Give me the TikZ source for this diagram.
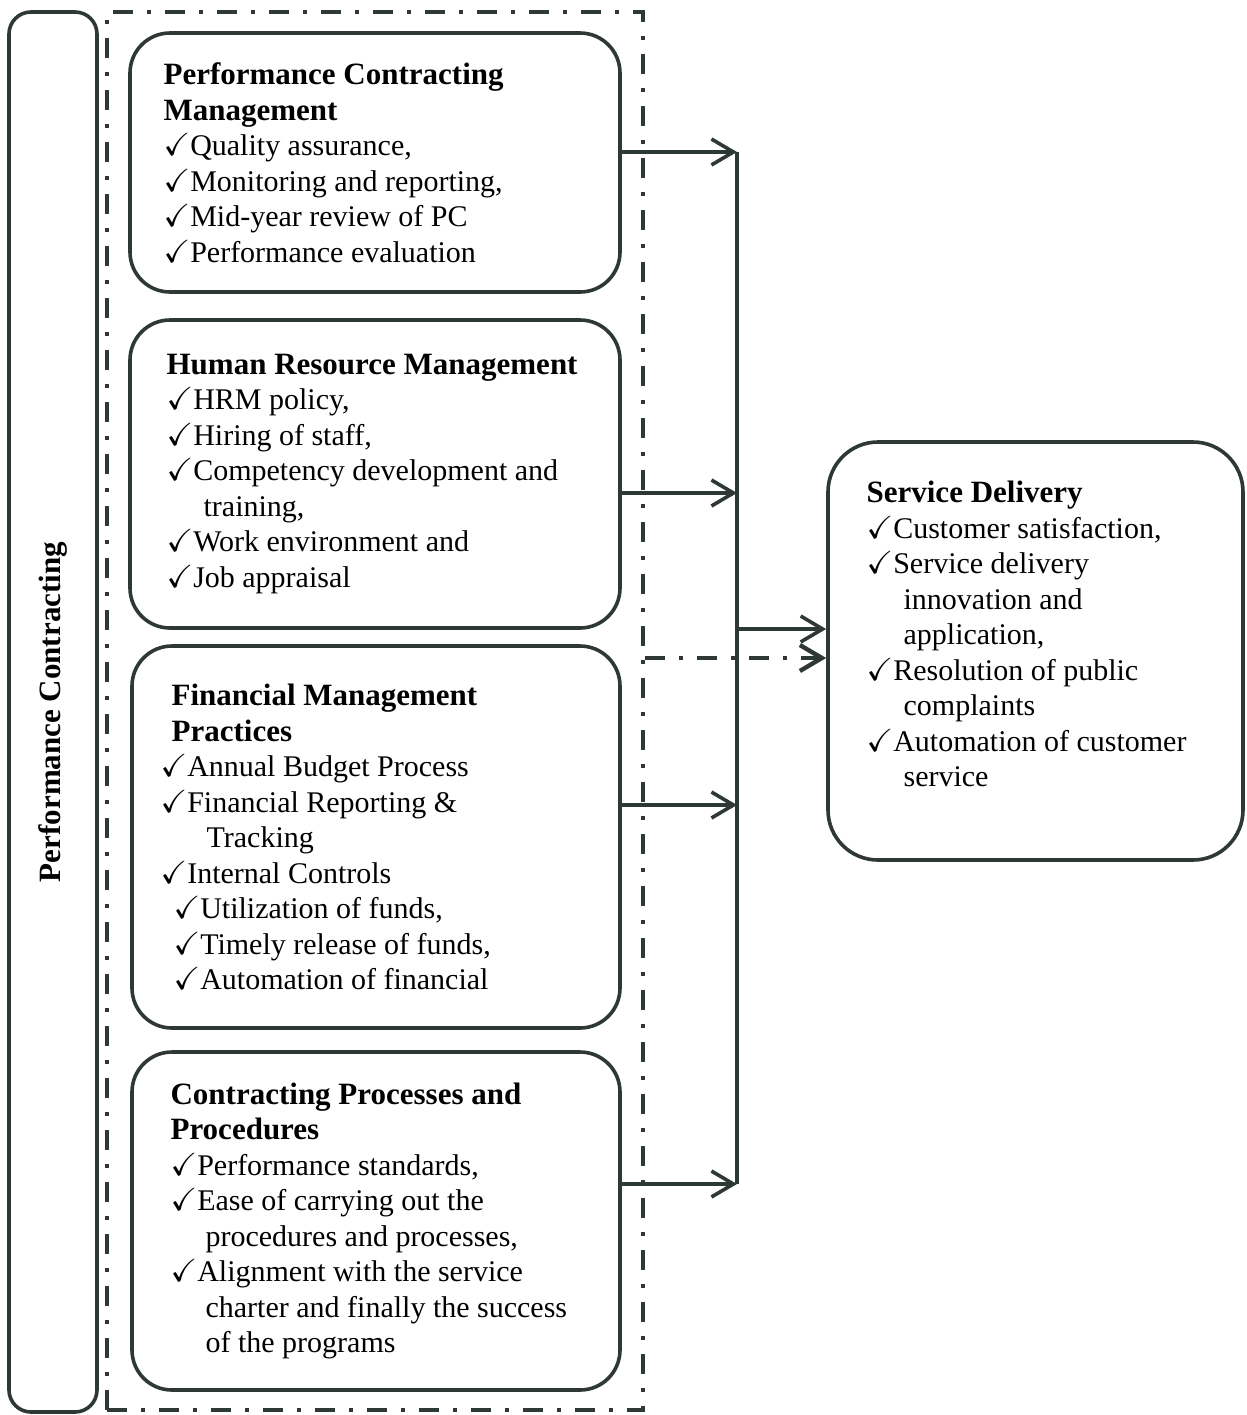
\documentclass[tikz,border=0pt]{standalone}
\usepackage{amssymb}
\usepackage{fontspec}
\setmainfont{Liberation Serif}
\usetikzlibrary{arrows.meta, positioning}
\definecolor{inkc}{HTML}{2E3836}
\newcommand{\chk}{{\fontsize{16}{17.75}\selectfont$\checkmark$}}
\newcommand{\ttl}[1]{{\fontsize{15.5}{17.75}\selectfont\bfseries #1}}
\tikzset{
  box/.style = {draw=inkc, line width=1.8pt, rounded corners=20pt,
    inner sep=0pt},
  txt/.style = {align=left, inner sep=0pt,
    font=\fontsize{15}{17.75}\selectfont},
  frame/.style = {draw=inkc, line width=2.2pt,
    dash pattern=on 10pt off 7pt on 2pt off 7pt},
  conn/.style = {draw=inkc, line width=1.8pt},
  arr/.style = {conn, -{Straight Barb[length=11pt,width=13pt]}}
}

\begin{document}
\begin{tikzpicture}[x=0.5pt, y=-0.5pt]
\useasboundingbox (0,0) rectangle (1247,1415);

\node [box, rounded corners=11pt, rotate=90, minimum width=700pt,
  minimum height=44pt] (pc) at (53,712) {\ttl{Performance Contracting}};
\node [frame, minimum width=268pt, minimum height=699pt] (frm) at (375,711) {};

\node [box, minimum width=245pt, minimum height=129.5pt] (b1) at (375,162.5) {};
\node [txt, right=17.5pt of b1.west] (t1) {%
  \ttl{Performance Contracting}\\
  \ttl{Management}\\
  \chk Quality assurance,\\
  \chk Monitoring and reporting,\\
  \chk Mid-year review of PC\\
  \chk Performance evaluation};

\node [box, minimum width=245pt, minimum height=154pt] (b2) at (375,474) {};
\node [txt, right=19pt of b2.west] (t2) {%
  \ttl{Human Resource Management}\\
  \chk HRM policy,\\
  \chk Hiring of staff,\\
  \chk Competency development and\\
  \hspace*{18.5pt}training,\\
  \chk Work environment and\\
  \chk Job appraisal};

\node [box, minimum width=244pt, minimum height=191pt] (b3) at (376,837) {};
\node [txt, right=15pt of b3.west] (t3) {%
  \hspace*{5.5pt}\ttl{Financial Management}\\
  \hspace*{5.5pt}\ttl{Practices}\\
  \chk Annual Budget Process\\
  \chk Financial Reporting \&\\
  \hspace*{23pt}Tracking\\
  \chk Internal Controls\\
  \hspace*{6.5pt}\chk Utilization of funds,\\
  \hspace*{6.5pt}\chk Timely release of funds,\\
  \hspace*{6.5pt}\chk Automation of financial};

\node [box, minimum width=244pt, minimum height=169pt] (b4) at (376,1221) {};
\node [txt, right=20pt of b4.west] (t4) {%
  \ttl{Contracting Processes and}\\
  \ttl{Procedures}\\
  \chk Performance standards,\\
  \chk Ease of carrying out the\\
  \hspace*{17.5pt}procedures and processes,\\
  \chk Alignment with the service\\
  \hspace*{17.5pt}charter and finally the success\\
  \hspace*{17.5pt}of the programs};

\node [box, rounded corners=25pt, minimum width=207.5pt, minimum height=209pt]
  (sd) at (1035.5,651) {};
\node [txt, right=20pt of sd.west, yshift=8.5pt] (tsd) {%
  \ttl{Service Delivery}\\
  \chk Customer satisfaction,\\
  \chk Service delivery\\
  \hspace*{18.5pt}innovation and\\
  \hspace*{18.5pt}application,\\
  \chk Resolution of public\\
  \hspace*{18.5pt}complaints\\
  \chk Automation of customer\\
  \hspace*{18.5pt}service};

% bus to service delivery
\coordinate (j1) at (737,152);
\coordinate (j2) at (737,493);
\coordinate (j3) at (737,805);
\coordinate (j4) at (737,1184);
\coordinate (jm) at (737,629);
\coordinate (jd) at (737,658);

\draw [conn] (j1) -- (j4);
\draw [arr] (b1.east |- j1) -- (j1);
\draw [arr] (b2.east |- j2) -- (j2);
\draw [arr] (b3.east |- j3) -- (j3);
\draw [arr] (b4.east |- j4) -- (j4);
\draw [arr] (jm) -- (sd.west |- jm);
\draw [frame, -{Straight Barb[length=11pt,width=13pt]}]
  (frm.east |- jd) -- (sd.west |- jd);
\end{tikzpicture}
\end{document}
